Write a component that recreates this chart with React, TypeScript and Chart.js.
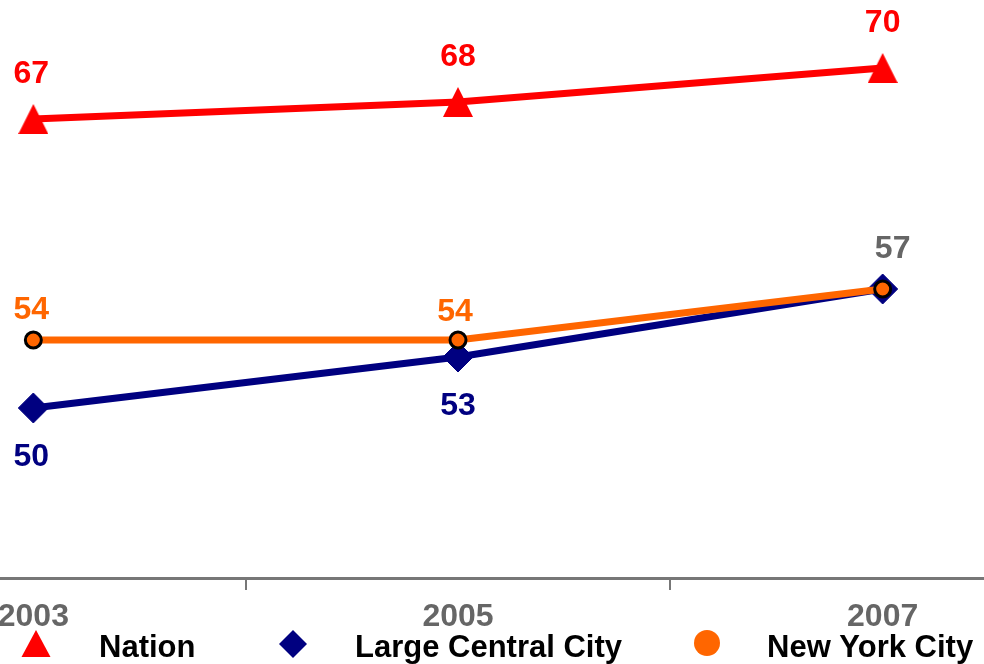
import React, { useEffect, useRef } from 'react';
import { Chart, registerables } from 'chart.js';

Chart.register(...registerables);

// ---- data ----
const years = ['2003', '2005', '2007'];
const nationValues = [67, 68, 70];
const largeCentralCityValues = [50, 53, 57];
const newYorkCityValues = [54, 54, 57];
const seriesNames = ['Nation', 'Large Central City', 'New York City'];
const yMin = 40;
const yMax = 74;

// ---- styles ----
const RED = '#FF0000';
const NAVY = '#000080';
const ORANGE = '#FF6600';
const GREY = '#666666';
const AXIS = '#777777';
const FONT = 'Arial, "Liberation Sans", Helvetica, sans-serif';

const CANVAS_W = 1274;
const CANVAS_H = 664;
const SHIFT = 179; // canvas is wider than the window and shifted left (cropped view)

function triangleImage(w: number, h: number, color: string) {
  const c = document.createElement('canvas');
  c.width = w;
  c.height = h;
  const ctx = c.getContext('2d')!;
  ctx.fillStyle = color;
  ctx.beginPath();
  ctx.moveTo(w / 2, 0);
  ctx.lineTo(w, h);
  ctx.lineTo(0, h);
  ctx.closePath();
  ctx.fill();
  return c;
}

export default function App() {
  const ref = useRef<HTMLCanvasElement | null>(null);

  useEffect(() => {
    if (!ref.current) return;
    const tri = triangleImage(30, 30, RED);

    const labelStyles = [
      { color: [RED, RED, RED], dx: [-2, 0, 0], dy: [-48, -48, -48], show: [true, true, true] },
      { color: [NAVY, NAVY, NAVY], dx: [-2, 0, 0], dy: [46, 46, 0], show: [true, true, false] },
      { color: [ORANGE, ORANGE, GREY], dx: [-2, -3, 10], dy: [-33, -31, -43], show: [true, true, true] },
    ];

    const valueLabels = {
      id: 'valueLabels',
      afterDatasetsDraw(chart: any) {
        const ctx = chart.ctx;
        ctx.save();
        ctx.font = `bold 32px ${FONT}`;
        ctx.textAlign = 'center';
        ctx.textBaseline = 'alphabetic';
        chart.data.datasets.forEach((ds: any, i: number) => {
          const meta = chart.getDatasetMeta(i);
          const st = labelStyles[i];
          meta.data.forEach((pt: any, j: number) => {
            if (!st.show[j]) return;
            ctx.fillStyle = st.color[j];
            ctx.fillText(String(ds.data[j]), pt.x + st.dx[j], pt.y + st.dy[j] + 11.5);
          });
        });
        ctx.restore();
      },
    };

    const customLegend = {
      id: 'customLegend',
      afterDraw(chart: any) {
        const ctx = chart.ctx;
        ctx.save();
        const items = [
          { marker: 'triangle', cx: 36, cy: 644, tx: 99, color: RED },
          { marker: 'diamond', cx: 293, cy: 644, tx: 355, color: NAVY },
          { marker: 'circle', cx: 707, cy: 643, tx: 767, color: ORANGE },
        ];
        items.forEach((it, i) => {
          const cx = it.cx + SHIFT;
          ctx.fillStyle = it.color;
          ctx.beginPath();
          if (it.marker === 'triangle') {
            ctx.moveTo(cx, it.cy - 14);
            ctx.lineTo(cx + 14.5, it.cy + 13);
            ctx.lineTo(cx - 14.5, it.cy + 13);
            ctx.closePath();
          } else if (it.marker === 'diamond') {
            ctx.moveTo(cx, it.cy - 14);
            ctx.lineTo(cx + 14, it.cy);
            ctx.lineTo(cx, it.cy + 14);
            ctx.lineTo(cx - 14, it.cy);
            ctx.closePath();
          } else {
            ctx.arc(cx, it.cy, 13, 0, Math.PI * 2);
          }
          ctx.fill();
          ctx.fillStyle = '#000000';
          ctx.font = `bold 31px ${FONT}`;
          ctx.textAlign = 'left';
          ctx.textBaseline = 'alphabetic';
          ctx.fillText(seriesNames[i], it.tx + SHIFT, 657);
        });
        ctx.restore();
      },
    };

    const chart = new Chart(ref.current, {
      type: 'line',
      data: {
        labels: years,
        datasets: [
          {
            label: seriesNames[0],
            data: nationValues,
            borderColor: RED,
            backgroundColor: RED,
            borderWidth: 7,
            pointStyle: tri as any,
            pointRadius: 15,
            order: 2,
          },
          {
            label: seriesNames[1],
            data: largeCentralCityValues,
            borderColor: NAVY,
            backgroundColor: NAVY,
            borderWidth: 7,
            pointStyle: 'rectRot',
            pointRadius: 15,
            pointBackgroundColor: NAVY,
            pointBorderColor: NAVY,
            pointBorderWidth: 1,
            order: 1,
          },
          {
            label: seriesNames[2],
            data: newYorkCityValues,
            borderColor: ORANGE,
            backgroundColor: ORANGE,
            borderWidth: 7,
            pointStyle: 'circle',
            pointRadius: 8,
            pointBackgroundColor: ORANGE,
            pointBorderColor: '#000000',
            pointBorderWidth: 3,
            order: 0,
          },
        ],
      },
      options: {
        responsive: false,
        animation: false,
        devicePixelRatio: 1,
        layout: { padding: { top: 0, left: 0, right: 0, bottom: 19.6 }, autoPadding: false },
        plugins: { legend: { display: false }, tooltip: { enabled: false } },
        scales: {
          x: {
            offset: true,
            grid: {
              display: true,
              offset: true,
              drawOnChartArea: false,
              drawTicks: true,
              tickLength: 12,
              color: AXIS,
              lineWidth: 2,
            },
            border: { display: true, color: AXIS, width: 3 },
            ticks: {
              color: GREY,
              font: { family: FONT, size: 32, weight: 'bold' },
              padding: 8,
              maxRotation: 0,
              autoSkip: false,
            },
          },
          y: { display: false, min: yMin, max: yMax },
        },
      } as any,
      plugins: [valueLabels, customLegend],
    });
    return () => chart.destroy();
  }, []);

  return (
    <div
      style={{
        position: 'fixed',
        left: 0,
        top: 0,
        width: 984,
        height: 664,
        overflow: 'hidden',
        background: '#ffffff',
      }}
    >
      <canvas
        ref={ref}
        width={CANVAS_W}
        height={CANVAS_H}
        style={{ position: 'absolute', left: -SHIFT, top: 0 }}
      />
    </div>
  );
}
